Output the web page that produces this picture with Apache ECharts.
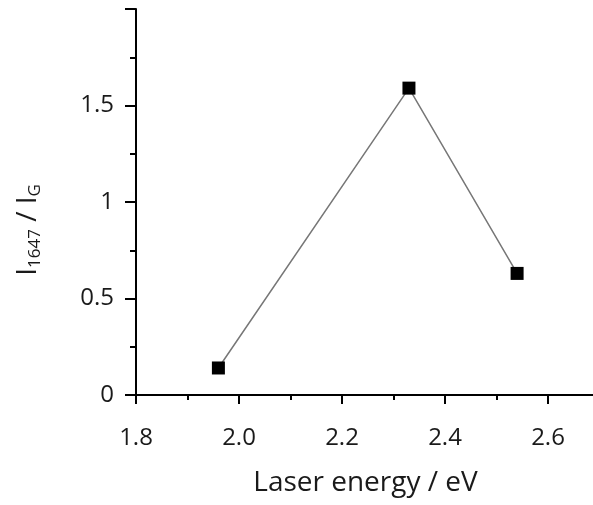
<!DOCTYPE html>
<html>
<head>
<meta charset="utf-8">
<script src="https://cdn.jsdelivr.net/npm/echarts@6/dist/echarts.min.js"></script>
<style>
  html, body { margin: 0; padding: 0; background: #fff; }
  #chart { width: 593px; height: 505px; }
</style>
</head>
<body>
<div id="chart"></div>
<script>
// Laser excitation energy (eV) and the I1647 / IG intensity ratio
const laserEnergy = [1.96, 2.33, 2.54];
const intensityRatio = [0.14, 1.59, 0.63];

const xTicks = [1.8, 2.0, 2.2, 2.4, 2.6];
const yTicks = [0, 0.5, 1, 1.5];

const points = laserEnergy.map((e, i) => [e, intensityRatio[i]]);

const font = '"Open Sans", "Liberation Sans", sans-serif';
const chart = echarts.init(document.getElementById('chart'), null, { renderer: 'canvas' });

chart.setOption({
  animation: false,
  backgroundColor: '#ffffff',
  // the x axis runs on past the right edge of the canvas
  grid: { left: 136, top: 9, width: 515, height: 386, containLabel: false, outerBoundsMode: 'none' },
  xAxis: {
    type: 'value',
    min: 1.8,
    max: 2.8,
    interval: 0.2,
    name: 'Laser energy / eV',
    nameLocation: 'middle',
    nameGap: 74,
    nameTextStyle: { fontFamily: font, fontSize: 28, color: '#1a1a1a', padding: [0, 56, 0, 0] },
    axisLine: { show: true, onZero: false, lineStyle: { color: '#000', width: 2 } },
    axisTick: { show: true, inside: false, length: 9, lineStyle: { color: '#000', width: 2 } },
    minorTick: { show: true, splitNumber: 2, length: 5, lineStyle: { color: '#000', width: 2 } },
    axisLabel: {
      fontFamily: font, fontSize: 24, color: '#1a1a1a', margin: 31,
      formatter: v => {
        const t = xTicks.find(k => Math.abs(k - v) < 1e-6);
        return t === undefined ? '' : t.toFixed(1);
      }
    },
    splitLine: { show: false }
  },
  yAxis: {
    type: 'value',
    min: 0,
    max: 2,
    interval: 0.5,
    name: '{m|I}{s|1647}{m| / I}{s|G}',
    nameLocation: 'middle',
    nameRotate: 90,
    nameGap: 92,
    nameTextStyle: {
      fontFamily: font, color: '#1a1a1a', padding: [0, 56, 0, 0],
      rich: {
        m: { fontFamily: font, fontSize: 28, color: '#1a1a1a' },
        s: { fontFamily: font, fontSize: 17, color: '#1a1a1a', padding: [14, 0, 0, 0] }
      }
    },
    axisLine: { show: true, onZero: false, lineStyle: { color: '#000', width: 2 } },
    axisTick: { show: true, inside: false, length: 11, lineStyle: { color: '#000', width: 2 } },
    minorTick: { show: true, splitNumber: 2, length: 6, lineStyle: { color: '#000', width: 2 } },
    axisLabel: {
      fontFamily: font, fontSize: 24, color: '#1a1a1a', margin: 22,
      formatter: v => {
        const t = yTicks.find(k => Math.abs(k - v) < 1e-6);
        return t === undefined ? '' : String(t);
      }
    },
    splitLine: { show: false }
  },
  series: [{
    type: 'line',
    data: points,
    symbol: 'rect',
    symbolSize: 13,
    itemStyle: { color: '#000' },
    lineStyle: { color: '#777777', width: 1.5 },
    z: 3
  }]
});
</script>
</body>
</html>
